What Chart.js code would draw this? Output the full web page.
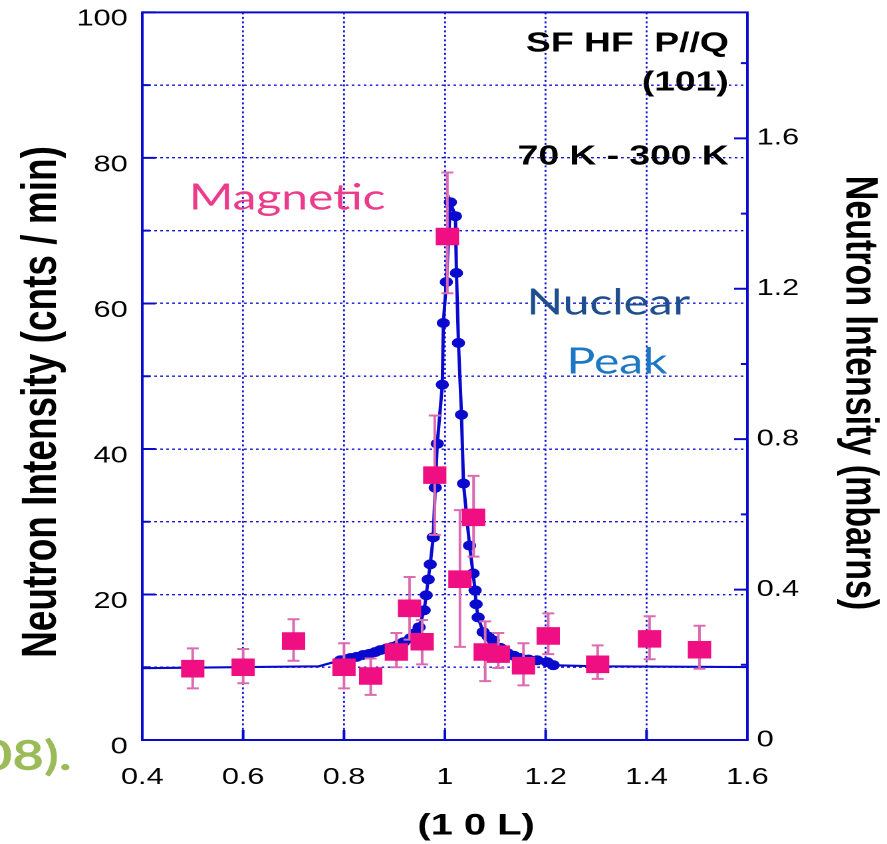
<!DOCTYPE html>
<html><head><meta charset="utf-8">
<script src="https://cdn.jsdelivr.net/npm/chart.js@4.4.0/dist/chart.umd.min.js"></script>
<style>
html,body{margin:0;padding:0;background:#fff;overflow:hidden;width:887px;height:844px;}
#wrap{position:absolute;left:0;top:0;width:667px;height:844px;transform-origin:0 0;transform:scaleX(1.32984);}
canvas{display:block;}
</style></head><body>
<div id="wrap"><canvas id="c" width="667" height="844"></canvas></div>
<script>
// ---- data ----
const xTicks = [0.4, 0.6, 0.8, 1.0, 1.2, 1.4, 1.6];
const xTickLabels = ['0.4', '0.6', '0.8', '1', '1.2', '1.4', '1.6'];
const yTicks = [0, 10, 20, 30, 40, 50, 60, 70, 80, 90, 100];
const yTickLabels = ['0', '', '20', '', '40', '', '60', '', '80', '', '100'];
const y2Ticks = [0, 0.2, 0.4, 0.6, 0.8, 1.0, 1.2, 1.4, 1.6, 1.8];
const y2TickLabels = ['0', '', '0.4', '', '0.8', '', '1.2', '', '1.6', ''];

// Magnetic (cnts / min) with error bars
const magX  = [0.50, 0.60, 0.70, 0.80, 0.853, 0.904, 0.93, 0.955, 0.98, 1.005, 1.03, 1.057, 1.08, 1.106, 1.156, 1.205, 1.303, 1.406, 1.505];
const magY  = [9.8, 10.0, 13.6, 10.0, 8.8, 12.1, 18.1, 13.5, 36.4, 69.2, 22.1, 30.6, 12.1, 11.8, 10.2, 14.3, 10.4, 13.9, 12.4];
const magLo = [7.1, 7.8, 10.9, 7.1, 6.2, 10.0, 13.8, 10.4, 28.2, 61.4, 12.8, 25.2, 8.1, 9.9, 7.5, 11.8, 8.4, 11.1, 9.8];
const magHi = [12.6, 12.5, 16.6, 13.3, 11.2, 14.7, 22.4, 16.5, 44.6, 78.0, 31.6, 36.3, 16.3, 14.7, 13.3, 17.4, 13.0, 17.0, 15.7];

// Nuclear peak (mbarns), measured points
const nucX = [0.793, 0.805, 0.813, 0.825, 0.838, 0.850, 0.862, 0.872, 0.884, 0.895, 0.906, 0.918, 0.932, 0.942, 0.949, 0.959, 0.963, 0.967, 0.971, 0.977, 0.981, 0.985, 0.995, 0.997, 1.003, 1.011, 1.021, 1.023, 1.027, 1.033, 1.037, 1.049, 1.056, 1.060, 1.062, 1.066, 1.076, 1.086, 1.096, 1.110, 1.124, 1.137, 1.150, 1.166, 1.183, 1.203, 1.215];
const nucY = [0.212, 0.215, 0.218, 0.221, 0.226, 0.229, 0.234, 0.239, 0.243, 0.247, 0.252, 0.260, 0.271, 0.285, 0.300, 0.345, 0.385, 0.427, 0.467, 0.539, 0.671, 0.788, 0.945, 1.109, 1.218, 1.430, 1.393, 1.242, 1.056, 0.865, 0.682, 0.517, 0.443, 0.398, 0.361, 0.326, 0.287, 0.275, 0.265, 0.245, 0.231, 0.224, 0.218, 0.214, 0.212, 0.207, 0.199];
// Nuclear fit line tails (mbarns)
const fitLeftX  = [0.4, 0.75, 0.793];
const fitLeftY  = [0.191, 0.196, 0.212];
const fitRightX = [1.215, 1.30, 1.6];
const fitRightY = [0.199, 0.196, 0.194];

// ---- styles ----
const BLUE = '#0A0ACF';
const GRID = '#1414D8';
const PINK = '#EF0F83';
const ERR  = '#DC6CB0';

const pts = (xs, ys) => xs.map((x, i) => ({x: x, y: ys[i]}));

const errorBars = {
  id: 'errorBars',
  beforeDatasetDraw(chart, args) {
    if (args.index !== 0) return;
    const ctx = chart.ctx, xs = chart.scales.x, ys = chart.scales.y;
    ctx.save();
    ctx.strokeStyle = ERR; ctx.lineWidth = 2;
    magX.forEach((xv, i) => {
      const px = xs.getPixelForValue(xv);
      const pl = ys.getPixelForValue(magLo[i]);
      const ph = ys.getPixelForValue(magHi[i]);
      ctx.beginPath();
      ctx.moveTo(px, pl); ctx.lineTo(px, ph);
      ctx.moveTo(px - 4.5, pl); ctx.lineTo(px + 4.5, pl);
      ctx.moveTo(px - 4.5, ph); ctx.lineTo(px + 4.5, ph);
      ctx.stroke();
    });
    ctx.restore();
  }
};

const decor = {
  id: 'decor',
  afterDraw(chart) {
    const ctx = chart.ctx, a = chart.chartArea;
    const xs = chart.scales.x, ys = chart.scales.y, y2 = chart.scales.y2;
    ctx.save();
    ctx.strokeStyle = BLUE; ctx.lineWidth = 2;
    ctx.beginPath();
    yTicks.forEach((v, i) => {
      const p = ys.getPixelForValue(v);
      const len = yTickLabels[i] ? 10 : 6;
      ctx.moveTo(a.left, p); ctx.lineTo(a.left + len, p);
    });
    y2Ticks.forEach((v, i) => {
      const p = y2.getPixelForValue(v);
      const len = y2TickLabels[i] ? 10 : 5;
      ctx.moveTo(a.right - len, p); ctx.lineTo(a.right, p);
    });
    xTicks.forEach(v => {
      const p = xs.getPixelForValue(v);
      ctx.moveTo(p, a.bottom); ctx.lineTo(p, a.bottom - 10);
    });
    ctx.stroke();
    ctx.strokeRect(a.left, a.top, a.right - a.left, a.bottom - a.top);

    // axis titles
    ctx.fillStyle = '#000';
    ctx.textAlign = 'center'; ctx.textBaseline = 'middle';
    ctx.font = 'bold 37px "Liberation Sans", Arial, sans-serif';
    ctx.save(); ctx.translate(32, 402); ctx.rotate(-Math.PI / 2);
    ctx.fillText('Neutron Intensity (cnts / min)', 0, 0); ctx.restore();
    ctx.font = 'bold 34px "Liberation Sans", Arial, sans-serif';
    ctx.save(); ctx.translate(646, 393); ctx.rotate(Math.PI / 2);
    ctx.fillText('Neutron Intensity (mbarns)', 0, 0); ctx.restore();
    ctx.font = 'bold 30px "Liberation Sans", Arial, sans-serif';
    ctx.fillText('(1 0 L)', 358, 826);

    // annotations
    ctx.textAlign = 'right';
    ctx.font = 'bold 28px "Liberation Sans", Arial, sans-serif';
    ctx.fillText('SF HF  P//Q', 548, 44);
    ctx.fillText('(101)', 548, 83);
    ctx.fillText('70 K - 300 K', 548, 157);

    ctx.textAlign = 'left';
    ctx.font = '36px Lato, sans-serif';
    ctx.fillStyle = '#EB3C8C'; ctx.fillText('Magnetic', 142, 198);
    ctx.fillStyle = '#1F4E8E'; ctx.fillText('Nuclear', 396, 303);
    ctx.fillStyle = '#1C78C4'; ctx.fillText('Peak', 426, 362);

    ctx.textAlign = 'right';
    ctx.font = 'bold 41px Lato, sans-serif';
    ctx.fillStyle = '#9BBB59'; ctx.fillText('08).', 54, 757);
    ctx.restore();
  }
};

const tickFont = {family: '"Liberation Sans", Arial, sans-serif', size: 23};

new Chart(document.getElementById('c'), {
  type: 'scatter',
  data: {
    datasets: [
      {label: 'Magnetic', data: pts(magX, magY), yAxisID: 'y',
       pointStyle: 'rect', pointRadius: 12.4, pointHoverRadius: 12.4,
       backgroundColor: PINK, borderWidth: 0, showLine: false},
      {label: 'Nuclear', data: pts(nucX, nucY), yAxisID: 'y2', showLine: true,
       borderColor: BLUE, borderWidth: 2.5, backgroundColor: BLUE,
       pointRadius: 5, pointHoverRadius: 5, pointBorderWidth: 0, tension: 0},
      {label: 'fitL', data: pts(fitLeftX, fitLeftY), yAxisID: 'y2', showLine: true,
       borderColor: BLUE, borderWidth: 2.2, pointRadius: 0},
      {label: 'fitR', data: pts(fitRightX, fitRightY), yAxisID: 'y2', showLine: true,
       borderColor: BLUE, borderWidth: 2.2, pointRadius: 0}
    ]
  },
  options: {
    responsive: false, animation: false, devicePixelRatio: 2,
    layout: {padding: {top: 12, left: 0, right: 0, bottom: 0}},
    plugins: {legend: {display: false}, tooltip: {enabled: false}},
    scales: {
      x: {
        type: 'linear', min: 0.4, max: 1.6, position: 'bottom',
        afterBuildTicks: s => { s.ticks = xTicks.map(v => ({value: v})); },
        afterFit: s => { s.height = 104; s.paddingLeft = 0; s.paddingRight = 0; },
        ticks: {font: tickFont, color: '#000', padding: 24, autoSkip: false, maxRotation: 0,
                callback: (v) => xTickLabels[xTicks.indexOf(v)]},
        grid: {color: GRID, lineWidth: 1.4, drawTicks: false},
        border: {display: false, dash: [2, 2.5]}
      },
      y: {
        type: 'linear', min: 0, max: 100, position: 'left',
        afterBuildTicks: s => { s.ticks = yTicks.map(v => ({value: v})); },
        afterFit: s => { s.width = 107; s.paddingTop = 0; s.paddingBottom = 0; },
        ticks: {font: tickFont, color: '#000', padding: 11, labelOffset: 7, autoSkip: false,
                callback: (v) => yTickLabels[yTicks.indexOf(v)]},
        grid: {color: GRID, lineWidth: 1.4, drawTicks: false},
        border: {display: false, dash: [2, 2.5]}
      },
      y2: {
        type: 'linear', min: 0, max: 1.935, position: 'right',
        afterBuildTicks: s => { s.ticks = y2Ticks.map(v => ({value: v})); },
        afterFit: s => { s.width = 105; s.paddingTop = 0; s.paddingBottom = 0; },
        ticks: {font: tickFont, color: '#000', padding: 7, autoSkip: false,
                callback: (v) => y2TickLabels[y2Ticks.indexOf(v)]},
        grid: {display: false, drawTicks: false},
        border: {display: false}
      }
    }
  },
  plugins: [errorBars, decor]
});
</script>
</body></html>
